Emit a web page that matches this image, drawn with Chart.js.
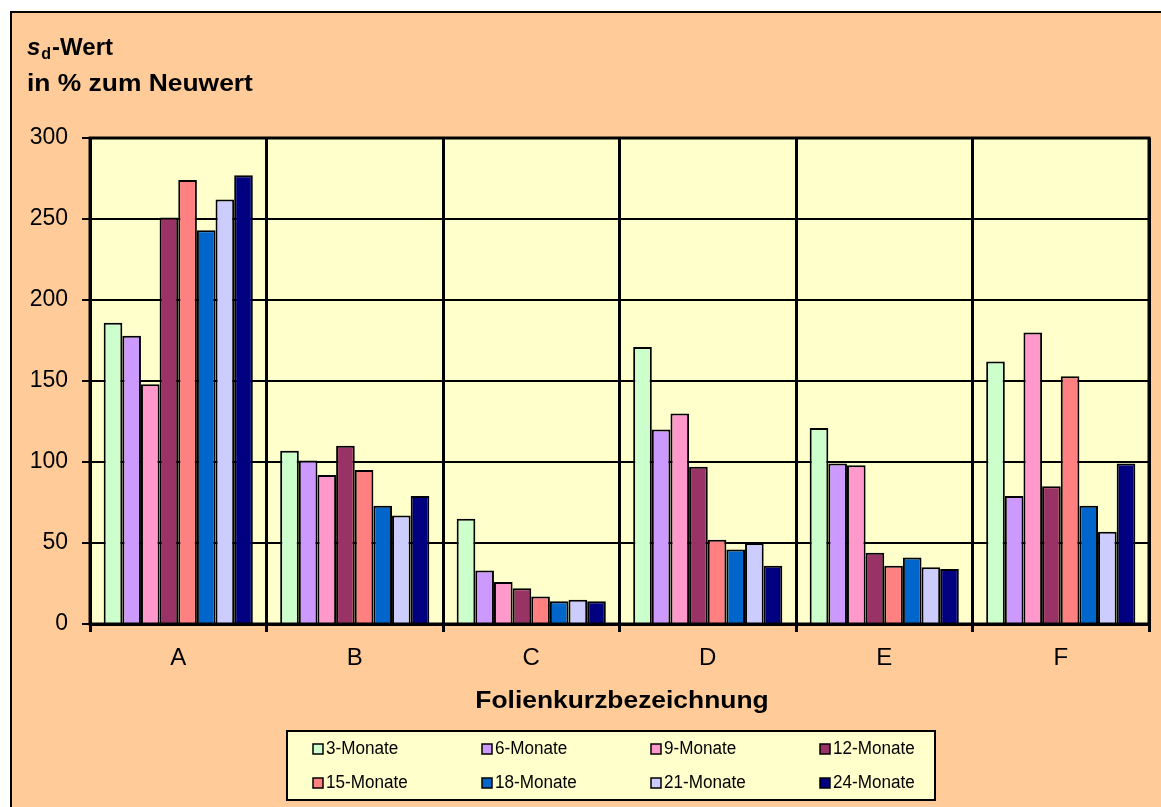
<!DOCTYPE html>
<html><head><meta charset="utf-8">
<script src="https://cdn.jsdelivr.net/npm/chart.js@4.4.1/dist/chart.umd.min.js"></script>
<style>html,body{margin:0;padding:0;background:#fff;overflow:hidden}canvas{display:block}</style>
</head><body><canvas id="c" width="1161" height="807"></canvas>
<script>
const categories = ['A', 'B', 'C', 'D', 'E', 'F'];
const seriesNames = ['3-Monate', '6-Monate', '9-Monate', '12-Monate', '15-Monate', '18-Monate', '21-Monate', '24-Monate'];
const m3  = [186, 107, 65, 171, 121, 162];
const m6  = [178, 101, 33, 120, 99, 79];
const m9  = [148, 92, 26, 130, 98, 180];
const m12 = [251, 110, 22, 97, 44, 85];
const m15 = [274, 95, 17, 52, 36, 153];
const m18 = [243, 73, 14, 46, 41, 73];
const m21 = [262, 67, 15, 50, 35, 57];
const m24 = [277, 79, 14, 36, 34, 99];
const yTicks = [0, 50, 100, 150, 200, 250, 300];
const xTitle = 'Folienkurzbezeichnung';
const yTitleLine2 = 'in % zum Neuwert';

const seriesValues = [m3, m6, m9, m12, m15, m18, m21, m24];
const seriesColors = ['#CCFFCC', '#CC99FF', '#FF99CC', '#993366', '#FF8080', '#0066CC', '#CCCCFF', '#000080'];

const FONT = '"Liberation Sans", Arial, sans-serif';

const decor = {
  id: 'decor',
  beforeDraw(chart) {
    const ctx = chart.ctx, a = chart.chartArea;
    ctx.save();
    ctx.fillStyle = '#ffffff';
    ctx.fillRect(0, 0, chart.width, chart.height);
    ctx.fillStyle = '#FFCC99';
    ctx.fillRect(10, 11, chart.width, chart.height);
    ctx.strokeStyle = '#000';
    ctx.lineWidth = 2;
    ctx.strokeRect(11, 12, chart.width + 10, chart.height + 10);
    ctx.fillStyle = '#FFFFCC';
    ctx.fillRect(a.left, a.top, a.right - a.left, a.bottom - a.top);
    ctx.restore();
  },
  afterDatasetsDraw(chart) {
    const ctx = chart.ctx, a = chart.chartArea;
    ctx.save();
    ctx.strokeStyle = '#000';
    ctx.lineWidth = 3;
    ctx.strokeRect(a.left, a.top, a.right - a.left, a.bottom - a.top);
    ctx.restore();
  },
  afterDraw(chart) {
    const ctx = chart.ctx;
    ctx.save();
    ctx.fillStyle = '#000';
    ctx.textBaseline = 'alphabetic';
    ctx.textAlign = 'left';
    // Y title line 1: s_d-Wert
    let x = 27;
    ctx.font = 'italic bold 24px ' + FONT;
    ctx.fillText('s', x, 55);
    x += ctx.measureText('s').width + 1;
    ctx.font = 'bold 16px ' + FONT;
    ctx.fillText('d', x, 59);
    x += ctx.measureText('d').width + 1;
    ctx.font = 'bold 24px ' + FONT;
    ctx.fillText('-Wert', x, 55);
    // Y title line 2
    ctx.save();
    ctx.translate(27, 91);
    ctx.scale(1.1, 1);
    ctx.font = 'bold 24px ' + FONT;
    ctx.fillText(yTitleLine2, 0, 0);
    ctx.restore();
    // X title
    ctx.save();
    ctx.font = 'bold 24px ' + FONT;
    const sx = 1.1;
    const w = ctx.measureText(xTitle).width * sx;
    ctx.translate(622 - w / 2, 708);
    ctx.scale(sx, 1);
    ctx.fillText(xTitle, 0, 0);
    ctx.restore();
    // Legend
    ctx.fillStyle = '#FFFFCC';
    ctx.fillRect(287, 731, 648, 69);
    ctx.strokeStyle = '#000';
    ctx.lineWidth = 2;
    ctx.strokeRect(287, 731, 648, 69);
    ctx.font = '18px ' + FONT;
    ctx.textBaseline = 'middle';
    chart.data.datasets.forEach((ds, i) => {
      const col = i % 4, row = Math.floor(i / 4);
      const lx = 313 + col * 169;
      const ly = row === 0 ? 749 : 783;
      ctx.fillStyle = ds.backgroundColor;
      ctx.fillRect(lx, ly - 5, 10, 10);
      ctx.lineWidth = 1.5;
      ctx.strokeStyle = '#000';
      ctx.strokeRect(lx, ly - 5, 10, 10);
      ctx.fillStyle = '#000';
      ctx.save();
      ctx.translate(lx + 13, ly);
      ctx.scale(0.95, 1);
      ctx.fillText(ds.label, 0, 0);
      ctx.restore();
    });
    ctx.restore();
  }
};

new Chart(document.getElementById('c'), {
  type: 'bar',
  data: {
    labels: categories,
    datasets: seriesNames.map((name, i) => ({
      label: name,
      data: seriesValues[i],
      backgroundColor: seriesColors[i],
      borderColor: '#000',
      borderWidth: 2,
      categoryPercentage: 0.845,
      barPercentage: 1.0
    }))
  },
  options: {
    responsive: false,
    animation: false,
    devicePixelRatio: 1,
    layout: { padding: { top: 138, right: 12, left: 0, bottom: 0 } },
    plugins: { legend: { display: false }, title: { display: false }, tooltip: { enabled: false } },
    scales: {
      x: {
        afterFit(scale) { scale.height = 183; },
        grid: { color: '#000', lineWidth: 3, offset: true, drawTicks: true, tickLength: 8 },
        border: { display: true, color: '#000', width: 3 },
        ticks: { color: '#000', font: { family: FONT, size: 24 }, padding: 12 }
      },
      y: {
        min: 0, max: 300,
        afterFit(scale) { scale.width = 90; },
        afterBuildTicks(scale) { scale.ticks = yTicks.map(v => ({ value: v })); },
        grid: { color: '#000', lineWidth: 2, drawTicks: true, tickLength: 8 },
        border: { display: true, color: '#000', width: 3 },
        ticks: { color: '#000', font: { family: FONT, size: 23 }, padding: 14 }
      }
    }
  },
  plugins: [decor]
});
</script>
</body></html>
